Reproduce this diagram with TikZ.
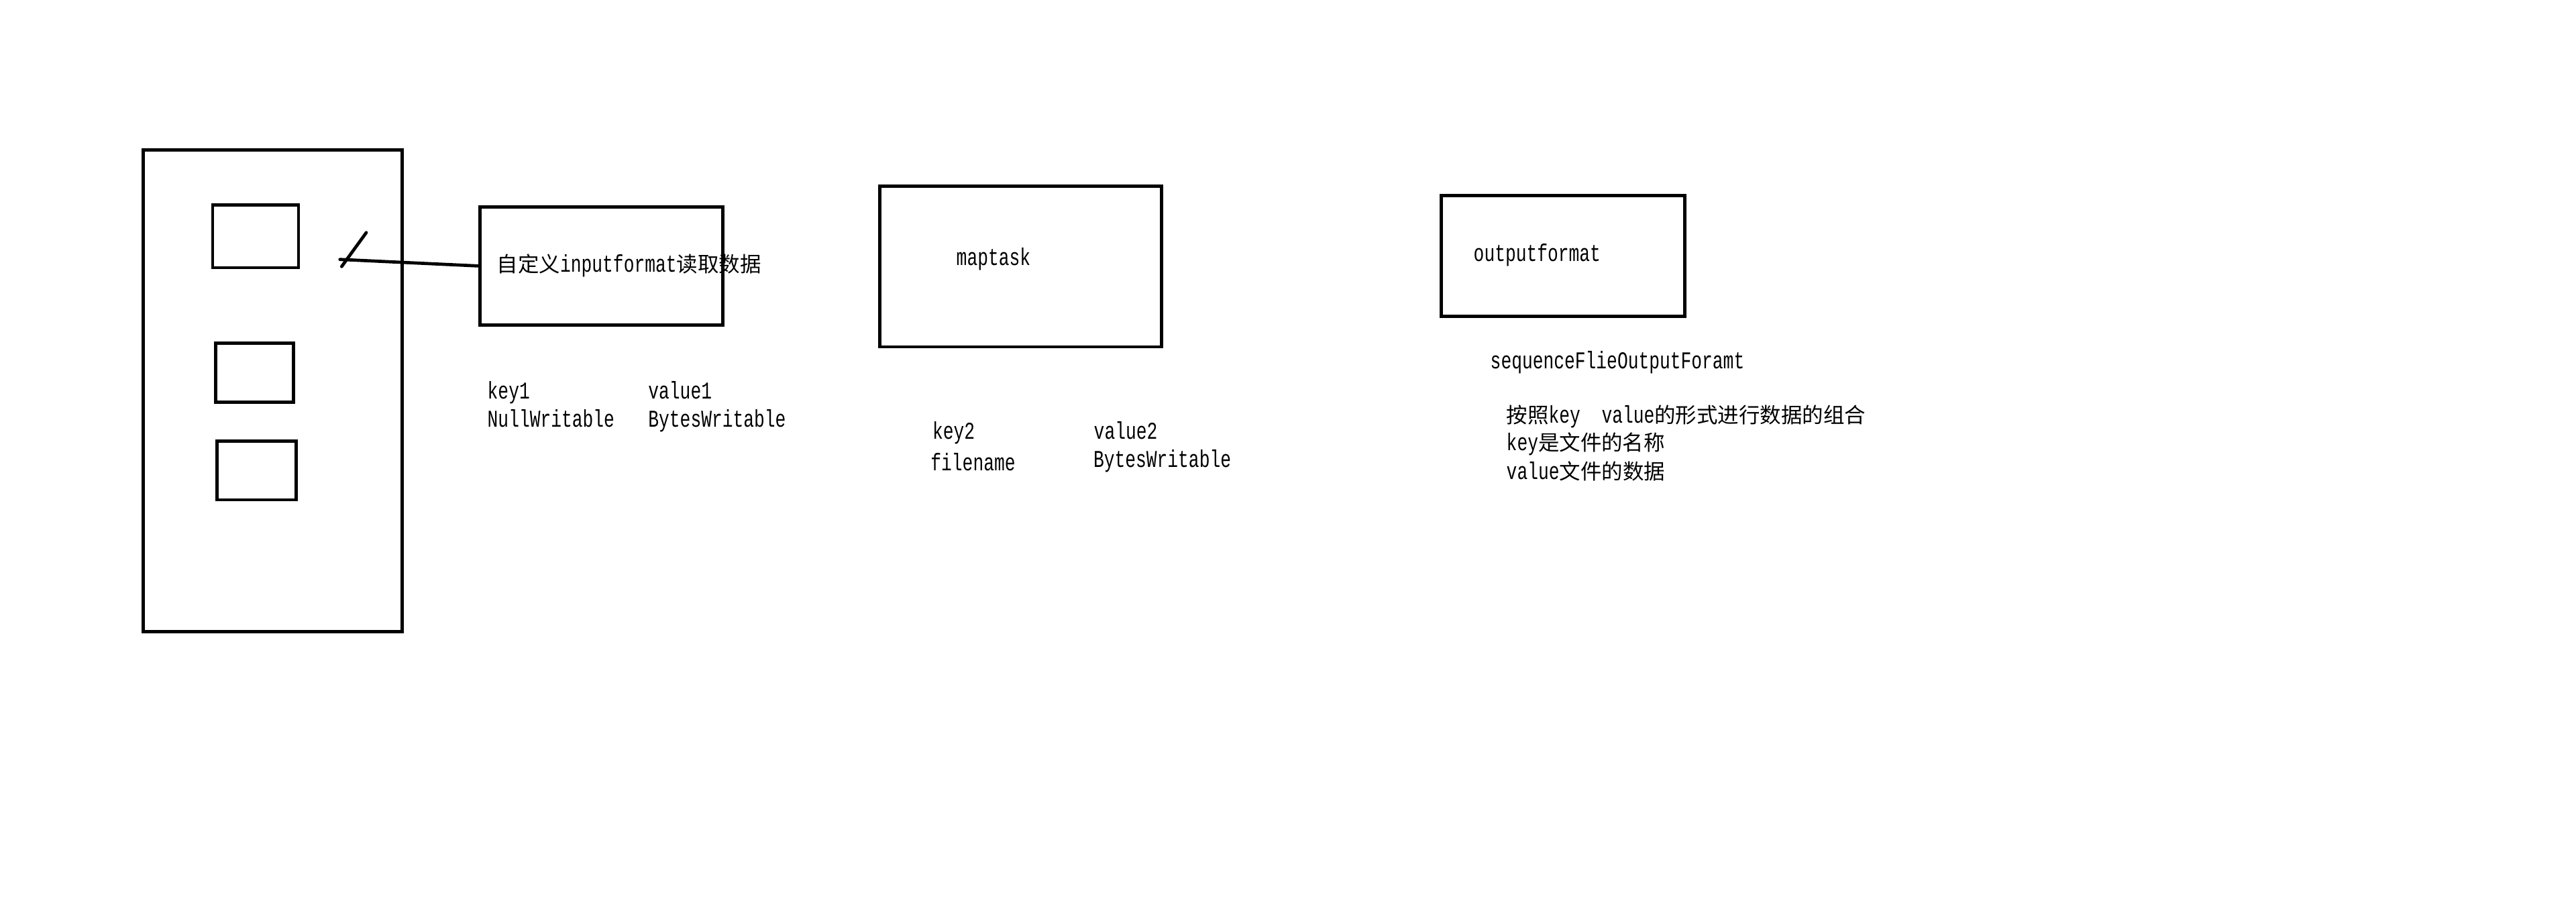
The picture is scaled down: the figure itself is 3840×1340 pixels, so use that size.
\documentclass[tikz,border=0pt]{standalone}
\usepackage{fontspec}
\setmainfont{Liberation Mono}[FakeStretch=0.73]
\newfontfamily\cjkfont{Noto Sans CJK SC}
\newcommand\latsize{\fontsize{10.24pt}{12pt}\selectfont}
\newcommand\zh[1]{{\cjkfont\fontsize{8.95pt}{10pt}\selectfont #1}}
\begin{document}
\begin{tikzpicture}[x=0.01cm,y=-0.01cm,
  box/.style={draw,line width=1.34pt,inner sep=0pt,rectangle},
  lbl/.style={anchor=base west,inner sep=0pt,font=\latsize},
  wire/.style={line width=1.34pt,line cap=round}]
\fill[white] (0,0) rectangle (3840,1340);
\useasboundingbox (0,0) rectangle (3840,1340);

% left container and its three small boxes
\node[box,minimum width=3.86cm,minimum height=7.178cm] (big) at (406.5,582.4) {};
\node[box,minimum width=1.28cm,minimum height=0.933cm] (s1) at (381,352.35) {};
\node[box,minimum width=1.162cm,minimum height=0.876cm] (s2) at (379.6,555.5) {};
\node[box,minimum width=1.18cm,minimum height=0.873cm] (s3) at (382.3,701.35) {};

% main boxes
\node[box,minimum width=3.62cm,minimum height=1.762cm] (input) at (896.3,396.4) {};
\node[box,minimum width=4.196cm,minimum height=2.395cm] (maptask) at (1521.5,397.25) {};
\node[box,minimum width=3.63cm,minimum height=1.796cm] (output) at (2329.8,381.5) {};

% connector with slash
\coordinate (hook) at (506.7,386.7);
\coordinate (sa) at (509.3,397.3);
\coordinate (sb) at (546,346.7);
\draw[wire] (hook) -- (input.west);
\draw[wire] (sa) -- (sb);

% texts
\node[lbl] (tin) at (740,405.7) {\zh{自定义}inputformat\zh{读取数据}};
\node[lbl] (k1) at (726,594) {key1};
\node[lbl] (v1) at (965.7,594) {value1};
\node[lbl] (k1t) at (726,636.7) {NullWritable};
\node[lbl] (v1t) at (965.7,636.7) {BytesWritable};

\node[lbl] (tmap) at (1425,395.7) {maptask};
\node[lbl] (k2) at (1389.3,654) {key2};
\node[lbl] (v2) at (1630,654) {value2};
\node[lbl] (k2t) at (1386.7,701) {filename};
\node[lbl] (v2t) at (1629.3,696.7) {BytesWritable};

\node[lbl] (tout) at (2196,389.3) {outputformat};
\node[lbl] (seq) at (2221,549.3) {sequenceFlieOutputForamt};
\node[lbl] (d1) at (2245,630) {\zh{按照}key~~value\zh{的形式进行数据的组合}};
\node[lbl] (d2) at (2245,672) {key\zh{是文件的名称}};
\node[lbl] (d3) at (2245,714) {value\zh{文件的数据}};
\end{tikzpicture}
\end{document}
